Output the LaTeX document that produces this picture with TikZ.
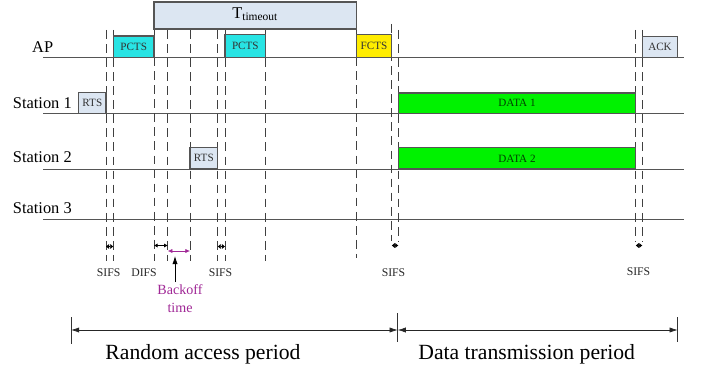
\documentclass[tikz,border=0pt]{standalone}
\usepackage{fontspec}
\setmainfont{Liberation Serif}
\usetikzlibrary{positioning}
\usetikzlibrary{arrows.meta}
\definecolor{framegray}{RGB}{220,230,242}
\definecolor{ctscyan}{RGB}{40,228,228}
\definecolor{ctsyellow}{RGB}{255,236,0}
\definecolor{datagreen}{RGB}{0,242,0}
\definecolor{backoffc}{RGB}{160,40,150}
\definecolor{linegray}{RGB}{85,85,85}
\tikzset{
	timeline/.style={draw=linegray, line width=0.8pt},
	frame/.style={draw=linegray, line width=0.9pt},
	guide/.style={draw=black!75, dash pattern=on 7.5pt off 4.5pt, line width=0.6pt},
	gap/.style={{Latex[length=3pt,width=3.5pt]}-{Latex[length=3pt,width=3.5pt]}, line width=0.5pt},
	sifs/.style={{Latex[length=2.6pt,width=4.5pt]}-{Latex[length=2.6pt,width=4.5pt]}, line width=0.4pt},
	period/.style={{Latex[length=7pt,width=4.5pt]}-{Latex[length=7pt,width=4.5pt]}, line width=0.6pt, draw=black!85},
	rowlabel/.style={anchor=west, inner sep=0pt, font=\fontsize{14}{16}\selectfont},
	boxtext/.style={inner sep=0pt, text=black!80, font=\fontsize{9.5}{10}\selectfont},
	gaplabel/.style={inner sep=0pt, text=black!85, font=\fontsize{10}{12}\selectfont},
	periodlabel/.style={inner sep=0pt, font=\fontsize{18.5}{22}\selectfont},
}
\begin{document}
\begin{tikzpicture}[x=0.03cm, y=-0.03cm]
	\useasboundingbox (0,0) rectangle (702,372);

	% time lines
	\draw[timeline] (43.3,57.7) -- (684.3,57.7);
	\draw[timeline] (43.3,113.3) -- (684.3,113.3);
	\draw[timeline] (43.3,169) -- (684.3,169);
	\draw[timeline] (43.3,219) -- (684.3,219);

	\node[rowlabel] (ap) at (32,47.5) {AP};
	\node[rowlabel] (sta1) at (12.7,103) {Station 1};
	\node[rowlabel] (sta2) at (12.7,157.5) {Station 2};
	\node[rowlabel] (sta3) at (12.7,208.5) {Station 3};

	% slot boundaries
	\draw[guide] (106,30) -- (106,261);
	\draw[guide] (113.3,30) -- (113.3,261);
	\draw[guide] (154,29) -- (154,261);
	\draw[guide] (167.7,30) -- (167.7,261);
	\draw[guide] (190,30) -- (190,261);
	\draw[guide] (217.7,30) -- (217.7,261);
	\draw[guide] (225,30) -- (225,261);
	\draw[guide] (265.7,30) -- (265.7,261);
	\draw[guide] (356.3,29) -- (356.3,258);
	\draw[guide] (391.7,24) -- (391.7,241);
	\draw[guide] (398.3,30) -- (398.3,241);
	\draw[guide] (635.7,30) -- (635.7,241);
	\draw[guide] (642.3,30) -- (642.3,241);

	% frames
	\draw[frame, fill=framegray] (154,2) rectangle node[inner sep=0pt, yshift=1pt, font=\fontsize{14}{16}\selectfont] (tout) {T\textsubscript{timeout}} (356.3,29);
	\draw[frame, fill=ctscyan] (113.3,36) rectangle node[boxtext] (pcts1) {PCTS} (154,57.7);
	\draw[frame, fill=ctscyan] (225,34.7) rectangle node[boxtext] (pcts2) {PCTS} (265.7,57.7);
	\draw[frame, fill=ctsyellow] (356.3,34.7) rectangle node[boxtext] (fcts) {FCTS} (391.7,57.7);
	\draw[frame, fill=framegray] (642.3,36.7) rectangle node[boxtext] (ack) {ACK} (677.7,57.7);
	\draw[frame, fill=framegray] (78.7,92.7) rectangle node[boxtext] (rts1) {RTS} (106,113.3);
	\draw[frame, fill=framegray] (190,147.3) rectangle node[boxtext] (rts2) {RTS} (217.7,169);
	\draw[frame, fill=datagreen] (398.3,93) rectangle node[boxtext, text=black!75!green] (data1) {DATA 1} (635.7,113.3);
	\draw[frame, fill=datagreen] (398.3,147.7) rectangle node[boxtext, text=black!75!green] (data2) {DATA 2} (635.7,169);

	% interframe spaces
	\coordinate (s1a) at (106,246.5);
	\coordinate (s1b) at (113.3,246.5);
	\coordinate (da) at (154,245.5);
	\coordinate (db) at (167.7,245.5);
	\coordinate (ba) at (167.7,251);
	\coordinate (bb) at (190,251);
	\coordinate (s2a) at (217.7,246.5);
	\coordinate (s2b) at (225,246.5);
	\coordinate (s3a) at (391.7,245.5);
	\coordinate (s3b) at (398.3,245.5);
	\coordinate (s4a) at (635.7,245.5);
	\coordinate (s4b) at (642.3,245.5);
	\draw[sifs] (s1a) -- (s1b);
	\draw[gap] (da) -- (db);
	\draw[gap, draw=backoffc, {Latex[length=4pt,width=3.5pt]}-{Latex[length=4pt,width=3.5pt]}] (ba) -- (bb);
	\draw[sifs] (s2a) -- (s2b);
	\draw[sifs] (s3a) -- (s3b);
	\draw[sifs] (s4a) -- (s4b);

	\node[gaplabel] (sifs1) at (108.7,273) {SIFS};
	\node[gaplabel] (difs) at (144,273) {DIFS};
	\node[gaplabel] (sifs2) at (220.5,273) {SIFS};
	\node[gaplabel] (sifs3) at (393.5,272.5) {SIFS};
	\node[gaplabel] (sifs4) at (638.5,272) {SIFS};
	\node[inner sep=0pt, align=center, text=backoffc, font=\fontsize{12}{15}\selectfont] (boff) at (180,298.5) {Backoff\\time};
	\coordinate (boffup) at (175,256);
	\draw[-{Latex[length=7pt,width=4.5pt]}, line width=0.6pt] (175,282) -- (boffup);

	% periods
	\coordinate (pl) at (71,330);
	\coordinate (pm) at (397.7,330);
	\coordinate (pr) at (677.7,330);
	\draw[line width=0.8pt, black!80] (71,317) -- (71,344);
	\draw[line width=0.8pt, black!80] (397.7,313) -- (397.7,342);
	\draw[line width=0.8pt, black!80] (677.7,317) -- (677.7,342);
	\draw[period] (pl) -- (pm);
	\draw[period] (pm) -- (pr);
	\node[periodlabel] (rap) at (203,354) {Random access period};
	\node[periodlabel] (dtp) at (526.7,354) {Data transmission period};
\end{tikzpicture}
\end{document}
